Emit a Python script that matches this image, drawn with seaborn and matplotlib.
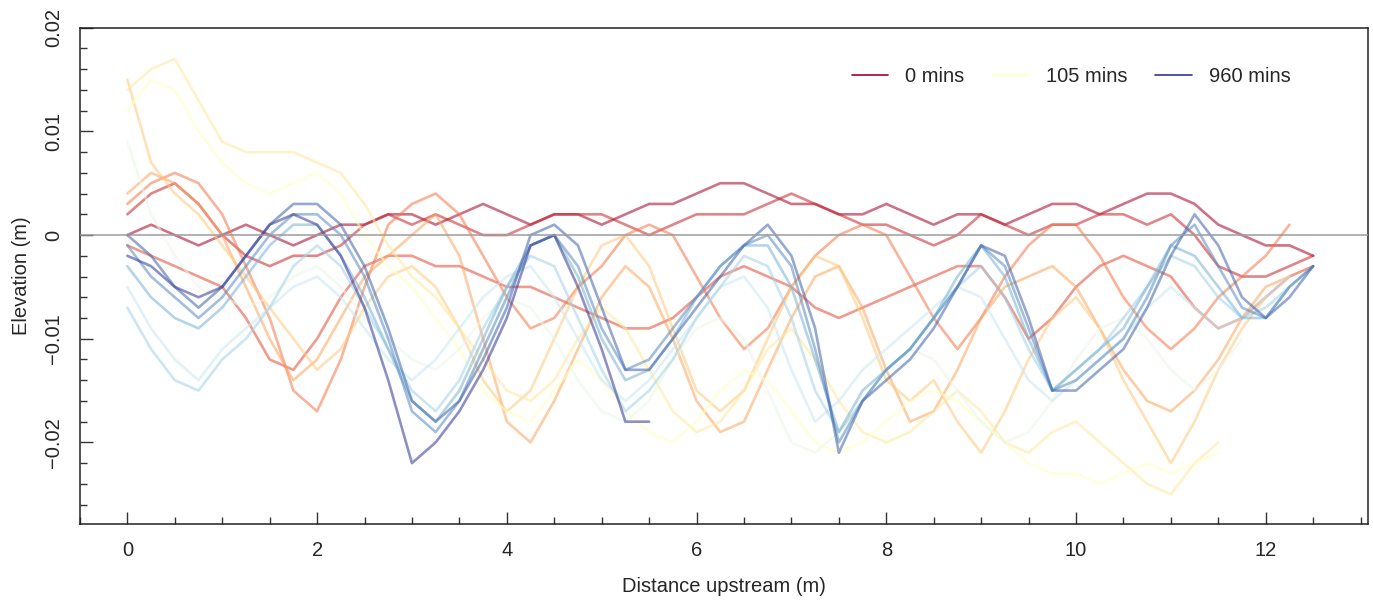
import matplotlib
matplotlib.use('Agg')
import matplotlib.pyplot as plt
from matplotlib.lines import Line2D
from matplotlib.ticker import MultipleLocator
import numpy as np
import pandas as pd
import seaborn as sns

# bed profiles, elevation in mm every 0.25 m upstream
distance = np.arange(0, 12.51, 0.25)
minutes = [0, 15, 30, 45, 60, 75, 90, 105, 120, 180, 240, 360, 480, 720, 960]
nan = np.nan

t0 = [0, 1, 0, -1, 0, 1, 0, -1, 0, 1, 1, 2, 2, 1, 2, 3, 2, 1, 2, 2, 1, 2, 3, 3, 4, 5,
      5, 4, 3, 3, 2, 2, 3, 2, 1, 2, 2, 1, 2, 3, 3, 2, 3, 4, 4, 3, 1, 0, -1, -1, -2]
t15 = [2, 4, 5, 3, 0, -2, -3, -2, -2, -1, 1, 2, 1, 2, 1, 0, 0, 1, 2, 2, 2, 1, 0, 1, 2, 2,
       2, 3, 4, 3, 2, 1, 1, 0, -1, 0, 2, 1, 0, 1, 1, 2, 2, 1, 2, 0, -3, -4, -4, -3, -2]
t30 = [-1, -2, -3, -4, -5, -8, -12, -13, -10, -6, -3, -2, -2, -3, -3, -4, -5, -5, -6, -7, -8, -9, -9, -8, -6, -4,
       -3, -4, -5, -7, -8, -7, -6, -5, -4, -3, -3, -6, -10, -8, -5, -3, -2, -3, -4, -7, -9, -8, -6, -4, -3]
t45 = [3, 5, 6, 5, 2, -3, -8, -15, -17, -12, -5, 1, 3, 4, 2, -2, -6, -9, -8, -5, -3, 0, 1, 0, -4, -8,
       -11, -9, -5, -2, 0, 1, 0, -4, -8, -11, -8, -4, -1, 1, 1, -2, -6, -9, -11, -9, -6, -4, -2, 1, nan]
t60 = [4, 6, 5, 3, 0, -5, -10, -14, -12, -8, -4, -2, 0, 2, -2, -10, -18, -20, -16, -11, -6, -3, -5, -10, -16, -19,
       -18, -13, -8, -4, -3, -7, -13, -18, -17, -13, -8, -5, -4, -3, -5, -9, -13, -16, -17, -15, -12, -8, -5, -4, nan]
t75 = [15, 7, 4, 2, -1, -4, -7, -10, -13, -11, -7, -4, -3, -5, -9, -14, -17, -15, -10, -5, -1, 0, -3, -9, -15, -17,
       -15, -10, -5, -2, -3, -8, -14, -16, -14, -18, -21, -17, -12, -8, -6, -9, -14, -18, -22, -18, -13, -9, -6, nan, nan]
t90 = [14, 16, 17, 13, 9, 8, 8, 8, 7, 6, 3, -1, -4, -6, -9, -12, -15, -16, -14, -10, -7, -9, -13, -17, -19, -18,
       -15, -11, -9, -12, -16, -19, -20, -19, -17, -15, -17, -20, -21, -19, -18, -20, -22, -24, -25, -22, -20, nan, nan, nan, nan]
t105 = [12, 15, 14, 10, 7, 5, 4, 5, 6, 4, 0, -3, -5, -8, -11, -15, -17, -18, -15, -12, -14, -17, -19, -20, -18, -15,
        -13, -14, -17, -20, -21, -20, -18, -16, -15, -16, -18, -20, -22, -23, -23, -24, -23, -22, -23, -22, -21, nan, nan, nan, nan]
t120 = [9, 2, -2, -5, -6, -7, -6, -4, -3, -5, -8, -10, -12, -13, -11, -8, -6, -7, -10, -14, -17, -18, -16, -12, -9, -8,
        -10, -15, -20, -21, -19, -16, -13, -11, -12, -15, -18, -20, -19, -16, -12, -9, -8, -10, -13, -15, -13, -10, nan, nan, nan]
t180 = [-5, -9, -12, -14, -11, -9, -7, -5, -4, -6, -9, -12, -14, -12, -9, -6, -4, -3, -6, -10, -14, -16, -14, -11, -8, -5,
        -4, -7, -13, -18, -16, -13, -11, -9, -7, -5, -6, -10, -14, -16, -14, -12, -10, -7, -5, -7, -9, -8, -6, -4, nan]
t240 = [-7, -11, -14, -15, -12, -10, -7, -3, -1, -3, -7, -11, -15, -17, -14, -9, -5, -2, -3, -8, -13, -17, -15, -12, -8, -5,
        -2, -3, -8, -15, -19, -16, -13, -11, -8, -5, -3, -6, -11, -15, -13, -11, -8, -5, -2, -3, -6, -8, -7, -5, nan]
t360 = [-3, -6, -8, -9, -7, -4, -1, 1, 1, -2, -6, -11, -16, -18, -15, -10, -5, -1, 0, -4, -10, -14, -13, -10, -6, -3,
        -1, -1, -5, -12, -19, -15, -13, -11, -8, -4, -1, -4, -10, -15, -13, -11, -9, -5, -1, -2, -5, -8, -8, -5, -3]
t480 = [-1, -4, -6, -8, -6, -3, 0, 2, 2, 0, -4, -10, -17, -19, -16, -11, -6, -1, 0, -3, -9, -13, -12, -9, -6, -3,
        -1, 0, -3, -11, -20, -16, -13, -11, -8, -5, -1, -3, -9, -15, -14, -12, -10, -6, -1, 1, -3, -7, -8, -5, -3]
t720 = [0, -2, -5, -7, -5, -2, 1, 3, 3, 1, -3, -9, -16, -18, -16, -12, -7, 0, 1, -1, -7, -13, -13, -10, -7, -4,
        -1, 1, -2, -9, -21, -16, -14, -12, -9, -5, -1, -2, -8, -15, -15, -13, -11, -7, -2, 2, -1, -6, -8, -6, -3]
t960 = [-2, -3, -5, -6, -5, -2, 1, 2, 1, -2, -7, -14, -22, -20, -17, -13, -8, -1, 0, -5, -11, -18, -18, nan, nan, nan,
        nan, nan, nan, nan, nan, nan, nan, nan, nan, nan, nan, nan, nan, nan, nan, nan, nan, nan, nan, nan, nan, nan, nan, nan, nan]

profiles = [t0, t15, t30, t45, t60, t75, t90, t105, t120, t180, t240, t360, t480, t720, t960]
legend_minutes = [0, 105, 960]

frames = []
for m, prof in zip(minutes, profiles):
    frames.append(pd.DataFrame({'Distance': distance, 'Elevation': np.array(prof, dtype=float) / 1000.0,
                                'Minutes': f'{m} mins'}))
df = pd.concat(frames, ignore_index=True).dropna()

cmap = plt.get_cmap('RdYlBu')
colors = [cmap(v) for v in np.linspace(0, 1, len(minutes))]
palette = {f'{m} mins': c for m, c in zip(minutes, colors)}

sns.set_style('ticks')
plt.rcParams['font.family'] = ['Liberation Sans', 'DejaVu Sans']

fig = plt.figure(figsize=(13.73, 6.01), dpi=100)
ax = fig.add_axes([0.058, 0.1276, 0.9385, 0.8263])

sns.lineplot(data=df, x='Distance', y='Elevation', hue='Minutes', palette=palette,
             estimator=None, sort=False, lw=1.9, alpha=0.55, legend=False, ax=ax)
ax.axhline(0, color='#9c9c9c', lw=1.1, zorder=5)

ax.set_xlim(-0.503, 13.08)
ax.set_ylim(-0.0279, 0.0200)
ax.xaxis.set_major_locator(MultipleLocator(2))
ax.xaxis.set_minor_locator(MultipleLocator(0.5))
ax.yaxis.set_major_locator(MultipleLocator(0.01))
ax.yaxis.set_minor_locator(MultipleLocator(0.002))
ax.set_xticklabels([f'{v:g}' for v in ax.get_xticks()])
ax.set_yticks([-0.02, -0.01, 0, 0.01, 0.02])
ax.set_yticklabels(['\u22120.02', '\u22120.01', '0', '0.01', '0.02'], rotation=90, va='center')
ax.tick_params(which='major', direction='in', length=9, width=1, labelsize=14.5, color='#333333', pad=12)
ax.tick_params(which='minor', direction='in', length=5, width=1, color='#333333')
ax.tick_params(axis='x', which='major', pad=12)
for s in ax.spines.values():
    s.set_color('#222222')
    s.set_linewidth(1.1)

ax.set_xlabel('Distance upstream (m)', fontsize=14.5, labelpad=12)
ax.set_ylabel('Elevation (m)', fontsize=14.5, labelpad=9)

handles = [Line2D([], [], color=palette[f'{m} mins'], lw=1.2) for m in legend_minutes]
ax.legend(handles, [f'{m} mins' for m in legend_minutes], ncol=3, loc='center left',
          bbox_to_anchor=(0.585, 0.9025), frameon=False, fontsize=14.5,
          handlelength=1.8, handletextpad=0.85, columnspacing=1.4)

fig.savefig('out.png', dpi=100)
